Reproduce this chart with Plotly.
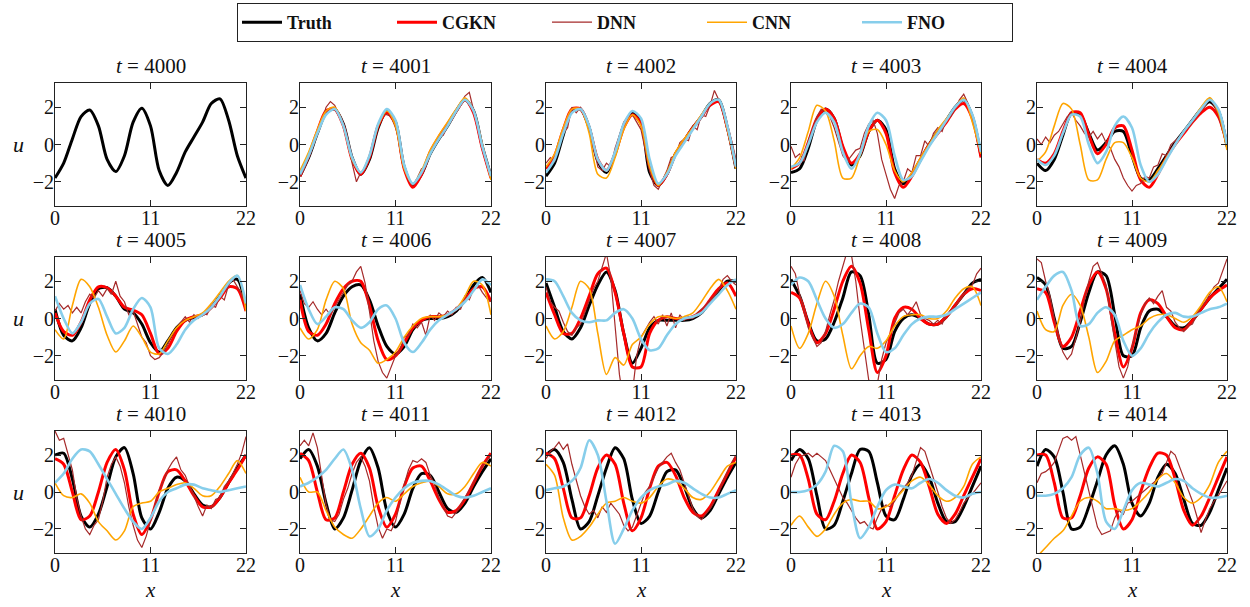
import plotly.graph_objects as go

TIMES = [4000, 4001, 4002, 4003, 4004, 4005, 4006, 4007, 4008, 4009, 4010, 4011, 4012, 4013, 4014]
X_GRID = [0, 1, 2, 3, 4, 5, 6, 7, 8, 9, 10, 11, 12, 13, 14, 15, 16, 17, 18, 19, 20, 21, 22]
X_FINE = [0, 0.5, 1, 1.5, 2, 2.5, 3, 3.5, 4, 4.5, 5, 5.5, 6, 6.5, 7, 7.5, 8, 8.5, 9, 9.5, 10, 10.5,
          11, 11.5, 12, 12.5, 13, 13.5, 14, 14.5, 15, 15.5, 16, 16.5, 17, 17.5, 18, 18.5, 19, 19.5,
          20, 20.5, 21, 21.5, 22]
X_TICKS = [0, 11, 22]
Y_TICKS = [-2, 0, 2]

TRUTH = [
    [-1.8, -1.0, 0.3, 1.5, 1.85, 1.0, -0.8, -1.45, -0.6, 1.2, 1.95, 1.0, -1.4, -2.2, -1.5, -0.4, 0.4, 1.2, 2.2, 2.45, 1.3, -0.6, -1.8],
    [-1.7, -0.7, 0.6, 1.7, 1.9, 1.1, -0.7, -1.6, -0.8, 0.9, 1.8, 1.2, -1.2, -2.2, -1.6, -0.5, 0.3, 1.0, 1.8, 2.4, 1.8, -0.1, -1.7],
    [-1.7, -1.0, 0.5, 1.8, 1.9, 0.9, -0.9, -1.5, -0.5, 1.0, 1.7, 1.2, -1.5, -2.2, -1.6, -0.5, 0.2, 0.9, 1.5, 2.2, 2.4, 0.9, -1.3],
    [-1.5, -1.3, -0.2, 1.3, 1.9, 1.4, -0.2, -1.1, -0.6, 0.7, 1.3, 0.8, -1.3, -2.1, -1.6, -0.8, 0.0, 0.7, 1.3, 2.0, 2.4, 1.5, -0.6],
    [-1.0, -1.4, -0.8, 0.5, 1.7, 1.6, 0.6, -0.3, 0.1, 0.7, 0.7, -0.6, -1.8, -1.9, -1.3, -0.6, 0.1, 0.7, 1.3, 1.9, 2.3, 1.8, -0.1],
    [0.5, -0.9, -1.2, -0.5, 0.8, 1.6, 1.65, 1.2, 0.5, 0.3, -0.3, -1.3, -1.8, -1.2, -0.5, -0.1, 0.05, 0.2, 0.6, 1.2, 1.9, 2.1, 0.5],
    [1.3, -0.5, -1.2, -0.8, 0.3, 1.2, 1.7, 1.8, 1.0, -0.4, -1.5, -1.9, -1.5, -0.6, -0.1, 0.0, 0.0, 0.1, 0.4, 1.0, 1.8, 2.2, 1.4],
    [1.9, 0.6, -0.7, -1.1, -0.5, 0.7, 1.8, 2.5, 1.5, -0.8, -2.4, -1.6, -0.5, -0.1, -0.1, -0.1, -0.1, 0.0, 0.3, 0.9, 1.5, 2.0, 2.0],
    [2.1, 1.2, -0.2, -1.2, -1.1, -0.2, 1.1, 2.5, 2.3, 0.2, -2.4, -2.2, -0.7, 0.0, 0.2, 0.0, -0.3, -0.3, 0.1, 0.7, 1.3, 1.9, 2.1],
    [2.2, 1.8, 0.0, -1.6, -1.5, -0.2, 1.4, 2.5, 2.3, 0.2, -2.0, -2.0, -0.5, 0.4, 0.5, 0.1, -0.4, -0.5, -0.1, 0.5, 1.1, 1.6, 2.1],
    [2.0, 2.1, 0.7, -1.3, -1.9, -1.2, 0.3, 1.9, 2.4, 1.0, -1.4, -2.0, -1.1, 0.2, 0.8, 0.6, -0.1, -0.7, -0.8, -0.3, 0.5, 1.3, 2.0],
    [1.8, 2.3, 1.4, -0.6, -2.0, -1.4, 0.1, 1.7, 2.4, 1.3, -1.0, -1.9, -1.2, 0.2, 1.0, 0.9, 0.0, -0.9, -1.1, -0.6, 0.3, 1.1, 1.8],
    [2.0, 2.3, 1.6, -0.4, -2.0, -1.6, -0.2, 1.3, 2.4, 1.8, -0.4, -1.7, -1.3, 0.0, 1.1, 1.2, 0.3, -0.9, -1.4, -1.0, -0.1, 0.8, 1.6],
    [1.7, 2.3, 1.8, -0.2, -2.0, -1.8, -0.5, 1.0, 2.3, 2.2, 0.5, -1.3, -1.5, -0.4, 0.9, 1.5, 0.8, -0.6, -1.6, -1.6, -0.8, 0.3, 1.4],
    [1.4, 2.3, 1.9, 0.0, -2.0, -1.9, -0.8, 0.6, 2.0, 2.5, 1.5, -0.6, -1.3, -0.6, 0.8, 1.5, 1.0, -0.4, -1.7, -1.8, -1.1, 0.1, 1.3],
]

CGKN = [
    None,
    [-1.7, -0.6, 0.7, 1.8, 1.9, 1.0, -0.8, -1.6, -0.7, 1.0, 1.7, 1.1, -1.3, -2.3, -1.6, -0.4, 0.4, 1.1, 1.8, 2.4, 1.7, -0.2, -1.8],
    [-1.3, -0.6, 0.8, 1.9, 1.9, 0.9, -0.8, -1.4, -0.5, 0.9, 1.6, 1.1, -1.2, -2.2, -1.6, -0.5, 0.2, 0.9, 1.5, 2.1, 2.3, 0.9, -1.2],
    [-1.3, -1.0, 0.1, 1.4, 1.9, 1.4, -0.1, -1.0, -0.5, 0.7, 1.3, 0.6, -1.5, -2.3, -1.7, -0.8, 0.0, 0.6, 1.2, 1.9, 2.2, 1.4, -0.7],
    [-0.8, -1.0, -0.5, 0.7, 1.7, 1.7, 0.5, -0.5, 0.0, 0.9, 1.0, -0.3, -1.9, -2.3, -1.6, -0.7, 0.0, 0.6, 1.2, 1.7, 2.0, 1.5, 0.0],
    [0.3, -0.7, -0.9, -0.2, 1.0, 1.7, 1.65, 1.2, 0.6, 0.45, 0.2, -0.8, -1.9, -1.6, -0.7, -0.1, 0.1, 0.2, 0.6, 1.1, 1.7, 1.6, 0.4],
    [1.0, -0.7, -0.9, -0.3, 0.8, 1.6, 2.0, 2.0, 0.7, -1.2, -2.2, -2.0, -1.3, -0.5, -0.1, 0.1, 0.1, 0.2, 0.5, 1.0, 1.6, 1.7, 0.9],
    [1.4, 0.2, -0.8, -0.8, 0.0, 1.2, 2.4, 2.7, 1.4, -0.8, -2.6, -2.6, -0.8, -0.1, 0.1, 0.0, 0.0, 0.1, 0.4, 1.0, 1.6, 1.9, 1.2],
    [1.4, 1.1, -0.3, -1.3, -0.8, 0.5, 2.0, 2.8, 1.9, -0.6, -2.9, -2.0, 0.0, 0.6, 0.5, 0.0, -0.3, -0.3, 0.1, 0.7, 1.3, 1.6, 1.5],
    [1.6, 1.4, -0.2, -1.5, -1.0, 0.4, 1.8, 2.5, 1.6, -0.8, -2.6, -1.6, 0.3, 1.0, 0.8, 0.1, -0.5, -0.6, -0.1, 0.5, 1.1, 1.5, 1.8],
    [1.8, 1.5, 0.0, -1.5, -1.3, 0.0, 1.6, 2.3, 1.2, -1.2, -2.3, -1.5, 0.0, 1.1, 1.2, 0.6, -0.2, -0.8, -0.8, -0.3, 0.5, 1.2, 2.0],
    [2.1, 1.7, 0.0, -1.5, -1.4, 0.0, 1.5, 2.1, 1.3, -0.8, -1.9, -1.2, 0.3, 1.3, 1.4, 0.6, -0.4, -1.1, -1.0, -0.4, 0.5, 1.4, 2.1],
    [2.1, 1.8, 0.2, -1.4, -1.4, -0.2, 1.3, 2.0, 1.5, -0.6, -2.1, -1.4, 0.2, 1.4, 1.6, 0.9, -0.3, -1.1, -1.3, -0.8, 0.1, 1.0, 1.9],
    [2.0, 2.0, 0.7, -1.2, -1.5, -0.5, 1.0, 2.0, 1.6, -0.3, -2.0, -1.6, -0.2, 1.2, 2.0, 1.6, 0.3, -1.2, -1.7, -1.2, -0.2, 0.8, 1.8],
    [2.0, 2.0, 0.5, -1.4, -1.4, -0.2, 1.3, 1.9, 1.5, -0.7, -2.0, -1.5, 0.0, 1.3, 2.1, 2.0, 0.7, -1.0, -1.8, -1.3, -0.3, 0.8, 1.9],
]

DNN = [
    None,
    [-1.7, -1.3, -0.6, 0.0, 0.7, 1.2, 2.0, 2.3, 2.1, 1.6, 1.0, 0.2, -1.0, -2.0, -1.5, -1.3, -0.7, 0.2, 1.0, 1.6, 1.6, 1.5,
     0.9, 0.1, -1.2, -1.9, -2.2, -1.8, -1.3, -1.2, -0.4, -0.1, 0.4, 0.5, 1.0, 1.3, 1.7, 2.2, 2.6, 2.8, 1.8, 0.9, -0.1, -1.0, -1.7],
    [-1.0, -0.7, -0.9, 0.2, 0.6, 0.9, 2.0, 1.7, 2.0, 1.6, 0.8, 0.0, -1.2, -1.4, -1.0, -1.2, -0.2, 0.5, 1.2, 1.5, 1.6, 1.2,
     0.8, -0.3, -1.4, -2.2, -2.4, -1.9, -1.4, -0.7, -0.6, 0.1, 0.3, 0.2, 1.0, 0.8, 1.6, 1.5, 2.1, 2.9, 2.4, 1.7, 0.9, 0.2, -0.8],
    [-0.1, -0.7, -0.5, -0.9, 0.2, 0.8, 1.5, 1.9, 1.7, 1.5, 0.9, 0.2, -0.6, -0.9, -0.6, -0.3, -0.2, 0.6, 1.1, 1.3, 0.6, -0.8,
     -1.6, -2.4, -2.9, -2.2, -2.0, -1.3, -1.5, -0.6, -0.6, 0.2, -0.1, 0.6, 0.9, 0.7, 1.4, 1.5, 1.9, 2.4, 2.7, 2.2, 1.6, 0.4, -0.3],
    [0.3, 0.0, 0.4, 0.1, 0.5, 0.7, 1.1, 1.5, 1.7, 1.3, 1.0, 0.6, 0.4, 0.7, 0.3, 0.6, 0.1, -0.2, -0.8, -1.2, -1.8, -2.2,
     -2.5, -2.2, -2.1, -1.7, -1.8, -1.2, -1.1, -0.5, -0.6, 0.0, 0.2, 0.4, 0.7, 0.9, 1.2, 1.5, 1.8, 2.1, 2.5, 2.1, 1.6, 0.7, 0.2],
    [0.4, 0.8, 0.5, 0.7, 0.3, 0.6, 0.3, 0.9, 1.3, 1.1, 1.5, 1.2, 1.6, 1.3, 2.0, 1.2, 0.9, 0.2, 0.4, -0.3, -1.0, -1.3,
     -2.0, -2.2, -2.1, -1.8, -1.4, -0.9, -0.5, -0.2, 0.1, -0.2, 0.2, 0.0, 0.3, 0.2, 0.7, 0.6, 1.2, 1.0, 1.8, 2.1, 1.7, 1.3, 0.6],
    [1.5, 0.8, 0.6, 0.9, 0.5, 0.2, 0.5, 0.2, 0.6, 1.0, 1.4, 1.8, 2.0, 2.5, 2.8, 1.9, 0.4, -1.2, -2.3, -2.9, -3.2, -2.6,
     -2.0, -1.7, -1.0, -0.9, -0.3, -0.5, -0.2, -0.9, 0.2, -0.1, 0.3, 0.1, 0.4, 0.2, 0.6, 0.5, 1.2, 1.0, 1.6, 1.8, 1.4, 1.1, 0.9],
    [1.7, 0.9, 0.6, 0.4, -0.2, -0.7, -0.9, -0.5, -0.3, 0.3, 1.0, 1.6, 2.0, 2.8, 3.5, 2.2, -0.5, -3.0, -4.5, -5.0, -4.0, -2.0,
     -1.0, -0.6, -0.2, 0.1, -0.3, 0.2, -0.4, 0.3, -0.5, 0.2, -0.1, 0.1, 0.0, 0.3, 0.5, 0.7, 1.0, 1.2, 1.5, 2.1, 2.3, 2.0, 1.8],
    [2.8, 2.4, 1.3, 0.5, -0.5, -1.0, -1.5, -1.3, -0.7, 0.2, 1.0, 2.0, 2.9, 3.6, 3.4, 2.0, 0.0, -1.8, -3.3, -4.0, -3.5, -2.2,
     -1.3, -0.8, -0.2, 0.3, 0.5, 0.2, 0.5, 0.9, 0.2, 0.0, -0.1, -0.3, -0.1, -0.3, 0.2, 0.4, 0.6, 1.0, 1.3, 1.6, 1.8, 2.4, 2.7],
    [3.2, 3.0, 2.0, 1.2, 0.0, -1.0, -1.8, -2.2, -1.9, -1.0, -0.2, 1.0, 2.0, 2.8, 3.0, 2.4, 1.8, 0.2, -1.2, -2.6, -3.2, -2.6,
     -1.5, -0.6, 0.2, 0.8, 1.1, 0.8, 1.2, 1.5, 0.6, 0.4, -0.2, -0.5, -0.7, -0.4, -0.3, 0.2, 0.6, 0.9, 1.3, 1.7, 1.9, 2.6, 3.2],
    [3.3, 2.8, 2.9, 2.0, 1.2, -0.3, -1.3, -2.0, -2.3, -1.8, -1.5, -0.5, 0.8, 1.5, 1.9, 1.4, 0.5, -0.8, -1.8, -2.6, -3.0, -2.4,
     -1.6, -0.8, 0.1, 0.6, 1.2, 1.6, 1.9, 1.2, 0.9, 0.3, -0.2, -0.8, -1.3, -0.7, -0.9, -0.4, -0.3, 0.3, 0.6, 1.0, 1.5, 2.1, 3.0],
    [2.5, 2.8, 2.5, 3.2, 2.4, 0.8, -0.7, -1.5, -1.6, -1.2, -0.4, 0.2, 1.0, 1.6, 1.9, 1.4, 0.6, -0.8, -1.9, -2.5, -2.0, -2.1,
     -1.6, -0.6, 0.4, 1.2, 1.7, 1.6, 1.8, 1.6, 0.9, 0.4, -0.3, -0.8, -1.3, -1.4, -1.1, -0.7, -0.3, 0.1, 0.5, 1.0, 1.4, 1.7, 2.0],
    [1.8, 2.2, 2.4, 2.7, 2.3, 2.6, 1.5, 0.6, -0.2, -0.8, -1.2, -1.0, -1.4, -0.8, -1.1, -0.6, -0.9, -1.2, -1.8, -2.1, -1.9, -1.3,
     -0.6, 0.0, 0.3, 0.8, 1.3, 1.6, 1.9, 2.1, 1.6, 1.2, 0.5, -0.3, -0.9, -1.3, -1.5, -1.2, -0.9, -0.5, 0.0, 0.6, 1.1, 1.6, 2.0],
    [0.8, 1.5, 1.9, 2.0, 2.1, 1.9, 2.1, 1.9, 1.7, 1.2, 0.7, 0.2, -0.3, -0.6, -1.0, -1.4, -1.7, -1.6, -1.9, -2.0, -1.4, -0.9,
     -0.7, -0.8, -0.5, -0.1, 0.2, 0.5, 0.9, 1.6, 2.4, 2.2, 1.5, 0.8, 0.0, -0.8, -1.4, -1.7, -1.5, -1.1, -0.6, -0.3, -0.1, 0.2, 0.5],
    [0.5, 1.0, 1.1, 1.3, 1.6, 2.3, 2.9, 3.0, 2.8, 3.0, 2.0, 1.0, 0.0, -1.0, -1.9, -2.3, -2.2, -2.1, -1.4, -1.0, -1.2, -0.6,
     -0.5, -0.3, -0.1, 0.1, 0.3, 0.5, 0.7, 1.0, 1.6, 2.2, 2.0, 1.4, 0.8, 0.2, -0.5, -1.3, -2.2, -1.5, -0.9, -0.5, -0.2, 0.2, 0.6],
]

CNN = [
    None,
    [-1.4, -0.4, 0.8, 1.8, 2.0, 1.0, -0.8, -1.5, -0.6, 1.0, 1.8, 1.0, -1.3, -2.1, -1.4, -0.3, 0.5, 1.2, 1.9, 2.5, 1.8, 0.0, -1.9],
    [-1.2, -0.5, 0.9, 1.9, 1.9, 0.6, -1.6, -1.8, -0.7, 0.8, 1.6, 1.0, -1.2, -2.2, -1.5, -0.4, 0.3, 0.9, 1.6, 2.2, 2.4, 0.8, -1.3],
    [-1.3, -0.7, 0.7, 2.1, 1.8, 0.2, -1.8, -1.8, -0.6, 0.7, 0.8, 0.0, -1.4, -2.0, -1.5, -0.7, 0.0, 0.8, 1.4, 2.0, 2.5, 1.2, -0.5],
    [-0.9, -0.4, 1.0, 2.2, 1.9, 0.0, -1.9, -1.9, -0.8, 0.1, 0.1, -0.7, -1.8, -2.0, -1.4, -0.7, 0.0, 0.7, 1.3, 2.0, 2.5, 1.7, -0.3],
    [-0.6, -1.1, 0.7, 2.1, 1.7, 0.6, -0.9, -1.8, -1.2, -0.4, -1.0, -1.8, -1.9, -1.2, -0.5, -0.1, 0.1, 0.3, 0.8, 1.4, 2.0, 2.3, 0.4],
    [-0.5, -1.1, -0.6, 1.0, 2.0, 1.6, -0.3, -1.3, -1.7, -2.4, -2.2, -1.8, -1.0, -0.4, 0.0, 0.1, 0.1, 0.2, 0.5, 1.2, 2.0, 1.8, 0.2],
    [-0.4, -1.1, -0.7, 0.6, 2.0, 1.6, -0.8, -3.0, -2.1, -2.5, -1.4, -1.0, -0.3, 0.1, 0.1, 0.0, 0.1, 0.3, 0.9, 1.6, 2.1, 1.5, 0.5],
    [-0.4, -1.6, -0.8, 0.8, 2.0, 1.2, -0.9, -2.7, -2.0, -1.5, -1.6, -1.2, -0.4, 0.1, 0.2, 0.2, 0.0, 0.0, 0.4, 1.1, 1.6, 1.7, 0.7],
    [0.4, -0.6, -0.7, 0.7, 1.3, 0.7, -1.0, -2.9, -2.3, -1.2, -0.9, -0.6, -0.4, 0.0, 0.2, 0.2, 0.0, -0.2, 0.1, 0.7, 1.4, 1.7, 0.9],
    [0.5, -0.2, -0.3, -0.1, -0.6, -1.6, -2.1, -2.6, -2.1, -0.8, -0.6, -0.5, 0.0, 0.2, 0.4, 0.5, 0.2, -0.2, -0.2, 0.3, 1.0, 1.7, 1.0],
    [0.8, 0.0, 0.0, -1.0, -1.9, -2.3, -2.5, -2.0, -1.3, -0.6, -0.3, -0.5, -0.1, 0.3, 0.5, 0.6, 0.3, -0.1, -0.1, 0.3, 1.0, 1.6, 1.4],
    [1.5, 0.9, -1.4, -2.6, -2.4, -1.9, -1.2, -0.6, -0.5, -0.3, -0.5, -0.6, -0.3, 0.3, 0.7, 0.6, 0.2, -0.3, -0.4, 0.0, 0.7, 1.4, 1.6],
    [-1.8, -1.3, -1.9, -2.4, -2.0, -1.2, -0.6, -0.4, -0.5, -0.5, -0.9, -0.8, -0.4, 0.1, 0.6, 0.8, 0.4, -0.2, -0.5, -0.3, 0.3, 1.5, 1.9],
    [-3.5, -3.0, -2.5, -2.1, -1.3, -0.5, -0.3, -0.5, -0.9, -0.9, -1.0, -0.9, -0.5, 0.0, 0.7, 1.0, 0.5, -0.3, -0.6, -0.3, 0.4, 1.6, 2.2],
]

FNO = [
    None,
    [-1.6, -0.6, 0.6, 1.6, 1.9, 1.0, -0.7, -1.5, -0.6, 1.1, 1.9, 1.3, -1.1, -2.1, -1.5, -0.5, 0.3, 1.0, 1.8, 2.4, 1.8, -0.1, -1.7],
    [-1.5, -0.8, 0.6, 1.7, 1.9, 1.0, -0.8, -1.4, -0.4, 1.1, 1.8, 1.4, -0.8, -2.1, -1.6, -0.6, 0.1, 0.8, 1.5, 2.2, 2.4, 1.0, -1.2],
    [-1.2, -1.0, 0.0, 1.2, 1.7, 1.2, -0.4, -1.3, -0.5, 1.0, 1.7, 1.3, -0.6, -1.9, -1.7, -0.9, -0.1, 0.6, 1.3, 2.0, 2.4, 1.6, -0.4],
    [-0.8, -1.1, -0.6, 0.6, 1.6, 1.5, 0.0, -1.0, -0.4, 1.0, 1.5, 0.9, -1.1, -2.0, -1.6, -0.8, 0.0, 0.7, 1.3, 1.9, 2.4, 1.9, 0.0],
    [1.2, 0.0, -0.8, -0.2, 0.8, 1.05, 0.1, -0.8, -0.5, 0.5, 1.1, 0.6, -1.6, -1.9, -1.4, -0.6, -0.1, 0.2, 0.6, 1.2, 1.9, 2.3, 0.8],
    [1.8, 0.5, -0.3, 0.1, 0.6, 0.5, -0.1, -0.5, -0.2, 0.5, 0.7, 0.0, -1.3, -1.8, -1.3, -0.6, -0.1, 0.2, 0.5, 0.9, 1.5, 2.1, 1.8],
    [2.1, 2.0, 1.2, 0.3, -0.1, -0.2, -0.1, -0.1, 0.3, 0.5, 0.0, -1.1, -1.7, -1.6, -0.9, -0.3, 0.0, 0.1, 0.3, 0.8, 1.3, 1.8, 2.1],
    [1.8, 2.2, 2.0, 1.0, 0.0, -0.5, -0.3, 0.3, 0.8, 0.6, -0.8, -1.8, -1.6, -0.9, -0.3, 0.0, 0.1, 0.1, 0.2, 0.5, 0.8, 1.1, 1.4],
    [1.0, 1.7, 2.3, 2.5, 1.5, -0.4, -0.3, 0.3, 0.6, 0.2, -1.2, -2.0, -1.6, -0.8, -0.2, 0.2, 0.3, 0.1, 0.1, 0.3, 0.5, 0.6, 0.8],
    [0.5, 1.0, 1.8, 2.3, 2.2, 1.5, 0.7, -0.1, -0.9, -1.6, -2.0, -1.4, -0.5, 0.0, 0.2, 0.4, 0.4, 0.2, 0.1, 0.0, 0.1, 0.2, 0.3],
    [0.3, 0.5, 0.8, 1.2, 1.8, 2.3, 1.2, -0.9, -2.4, -2.0, -1.0, -0.3, 0.2, 0.5, 0.6, 0.6, 0.4, 0.1, -0.2, -0.3, -0.2, 0.0, 0.2],
    [0.1, 0.2, 0.3, 0.6, 1.3, 2.8, 2.0, -0.5, -2.8, -2.0, -1.0, -0.3, 0.1, 0.3, 0.4, 0.6, 0.5, 0.2, -0.1, -0.3, -0.3, -0.1, 0.1],
    [0.0, 0.0, 0.1, 0.4, 1.1, 2.5, 2.2, -0.6, -2.5, -1.9, -0.8, 0.1, 0.4, 0.3, 0.2, 0.5, 0.7, 0.5, 0.1, -0.2, -0.3, -0.1, 0.0],
    [-0.2, -0.2, -0.1, 0.2, 0.8, 2.0, 2.4, 1.0, -1.6, -2.0, -1.0, 0.1, 0.5, 0.4, 0.3, 0.5, 0.7, 0.6, 0.2, -0.1, -0.3, -0.3, -0.2],
]

SERIES = [
    ("Truth", TRUTH, "#000000", 3.0, True),
    ("CGKN", CGKN, "#ff0000", 3.0, True),
    ("DNN", DNN, "#a52a2a", 1.2, False),
    ("CNN", CNN, "#ffa500", 1.6, True),
    ("FNO", FNO, "#87ceeb", 2.6, True),
]

W, H = 1250, 607
COLS = [(55, 246), (300, 491), (546, 736), (791, 981), (1037, 1227)]
ROWS = [(83, 206), (257, 380), (431, 553)]
FONT = "Liberation Serif, DejaVu Serif, Times New Roman, serif"

fig = go.Figure()
layout = {}
annotations = []
legend_done = set()

for i, t in enumerate(TIMES):
    r, c = divmod(i, 5)
    xs = "" if i == 0 else str(i + 1)
    x0, x1 = COLS[c]
    y0, y1 = ROWS[r]
    axis_common = dict(
        showline=True, linecolor="#222222", linewidth=1, mirror="ticks",
        ticks="inside", ticklen=6, tickwidth=1, tickcolor="#222222",
        showgrid=False, zeroline=False, automargin=False,
        tickfont=dict(family=FONT, size=20, color="#111111"),
    )
    layout["xaxis" + xs] = dict(
        domain=[x0 / W, x1 / W], range=[0, 22], tickvals=X_TICKS,
        anchor="y" + xs, ticklabelstandoff=-6, **axis_common)
    layout["yaxis" + xs] = dict(
        domain=[1 - y1 / H, 1 - y0 / H], range=[-3.3, 3.3], tickvals=Y_TICKS,
        anchor="x" + xs, ticklabelstandoff=-4, **axis_common)
    annotations.append(dict(
        text="<i>t</i> = %d" % t, x=(x0 + x1) / 2 / W, y=1 - y0 / H,
        xref="paper", yref="paper", xanchor="center", yanchor="bottom",
        showarrow=False, yshift=3, font=dict(family=FONT, size=21, color="#111111")))
    for name, data, color, width, smooth in SERIES:
        vals = data[i]
        if vals is None:
            continue
        xv = X_FINE if name == "DNN" else X_GRID
        show = name not in legend_done
        legend_done.add(name)
        fig.add_trace(go.Scatter(
            x=xv, y=vals, mode="lines", name=name,
            line=dict(color=color, width=width, shape="spline" if smooth else "linear",
                      smoothing=0.8),
            showlegend=show, legendgroup=name,
            xaxis="x" + xs, yaxis="y" + xs))

for r in range(3):
    y0, y1 = ROWS[r]
    annotations.append(dict(
        text="<i>u</i>", x=18 / W, y=1 - (y0 + y1) / 2 / H, xref="paper", yref="paper",
        xanchor="center", yanchor="middle", showarrow=False,
        font=dict(family=FONT, size=22, color="#111111")))
for c in range(5):
    x0, x1 = COLS[c]
    annotations.append(dict(
        text="<i>x</i>", x=(x0 + x1) / 2 / W, y=1 - 590 / H, xref="paper", yref="paper",
        xanchor="center", yanchor="middle", showarrow=False,
        font=dict(family=FONT, size=21, color="#111111")))

fig.update_layout(
    width=W, height=H,
    margin=dict(l=0, r=0, t=0, b=0, autoexpand=False),
    paper_bgcolor="white", plot_bgcolor="white",
    annotations=annotations,
    showlegend=True,
    legend=dict(
        orientation="h", x=0.5, xanchor="center", y=1 - 3 / H, yanchor="top",
        bordercolor="#222222", borderwidth=1, bgcolor="white",
        font=dict(family=FONT, size=18, color="#111111", weight="bold"),
        entrywidth=100, entrywidthmode="pixels", itemwidth=40,
    ),
    **layout,
)

fig.write_html("out.html", config={"displayModeBar": False},
               post_script="document.body.style.margin='0px';")
